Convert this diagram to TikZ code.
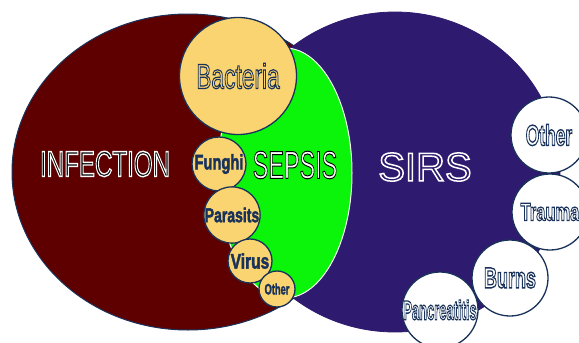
\documentclass[tikz,border=0pt]{standalone}
\usepackage{fontspec}
\setmainfont{Liberation Sans}
\usepackage{graphicx}
\definecolor{infred}{RGB}{94,0,0}
\definecolor{sirsblue}{RGB}{46,26,110}
\definecolor{sepgreen}{RGB}{10,245,10}
\definecolor{cyellow}{RGB}{250,212,112}
\definecolor{navy}{RGB}{25,50,90}
\makeatletter
% #1 size, #2 stroke width, #3 x-scale, #4 stroke rgb, #5 fill colour, #6 text
\newcommand\olabel[6]{\fontsize{#1}{#1}\selectfont\scalebox{#3}[1]{\color{#5}\pgfsys@invoke{2 Tr #2 w #4 RG}#6\pgfsys@invoke{0 Tr}}}
\makeatother
\def\navyrgb{0.098 0.196 0.353}
\tikzset{
  ycirc/.style={circle, draw=navy, line width=1.3pt, fill=cyellow, inner sep=0pt},
  wcirc/.style={circle, draw=navy, line width=1.3pt, fill=white, inner sep=0pt},
  lbl/.style={inner sep=0pt},
}
\begin{document}
\begin{tikzpicture}[x=1pt,y=-1pt]
\useasboundingbox (0,0) rectangle (579,343);
\fill[white] (0,0) rectangle (579,343);
% main sets
\draw[fill=infred, draw=navy, line width=1pt] (188,172) ellipse [x radius=176pt, y radius=158pt];
\draw[fill=sirsblue, draw=sirsblue, line width=0.8pt] (395,172) ellipse [x radius=165pt, y radius=160pt];
\draw[fill=sepgreen, draw=white, line width=1pt] (285,173) ellipse [x radius=67pt, y radius=125pt];
% yellow circles (infections)
\node[ycirc, minimum size=117pt] (bacteria) at (238,76) {\olabel{35}{1.2}{0.65}{\navyrgb}{cyellow}{Bacteria}};
\node[ycirc, minimum size=54pt] (funghi) at (219,164) {\olabel{21}{0.5}{0.7}{\navyrgb}{navy}{\bfseries Funghi}};
\node[ycirc, minimum size=51pt] (parasits) at (232,215) {\olabel{20}{0.5}{0.7}{\navyrgb}{navy}{\bfseries Parasits}};
\node[ycirc, minimum size=44pt] (virus) at (250,261) {\olabel{21}{0.5}{0.74}{\navyrgb}{navy}{\bfseries Virus}};
\node[ycirc, minimum size=36pt] (other1) at (277,289) {\olabel{15}{0.4}{0.62}{\navyrgb}{navy}{\bfseries Other}};
% white circles (SIRS causes)
\node[wcirc, minimum size=76pt] (other2) at (549,135) {\olabel{29}{1.4}{0.6}{\navyrgb}{white}{\bfseries Other}};
\node[wcirc, minimum size=76pt] (trauma) at (550,212) {\olabel{25}{1.2}{0.66}{\navyrgb}{white}{\bfseries Trauma}};
\node[wcirc, minimum size=76pt] (burns) at (510,278) {\olabel{29}{1.4}{0.62}{\navyrgb}{white}{\bfseries Burns}};
\node[wcirc, minimum size=76pt] (pancreatitis) at (440,310) {\olabel{27}{1.3}{0.48}{\navyrgb}{white}{\bfseries Pancreatitis}};
% big labels
\node[lbl] (infection) at (105,164) {\olabel{36}{1.4}{0.67}{1 1 1}{black}{INFECTION}};
\node[lbl] (sepsis) at (295,165) {\olabel{39}{1.0}{0.6}{0 0 0}{white}{SEPSIS}};
\node[lbl] (sirs) at (425,167) {\olabel{40}{1.5}{1}{1 1 1}{sirsblue}{SIRS}};
\end{tikzpicture}
\end{document}
